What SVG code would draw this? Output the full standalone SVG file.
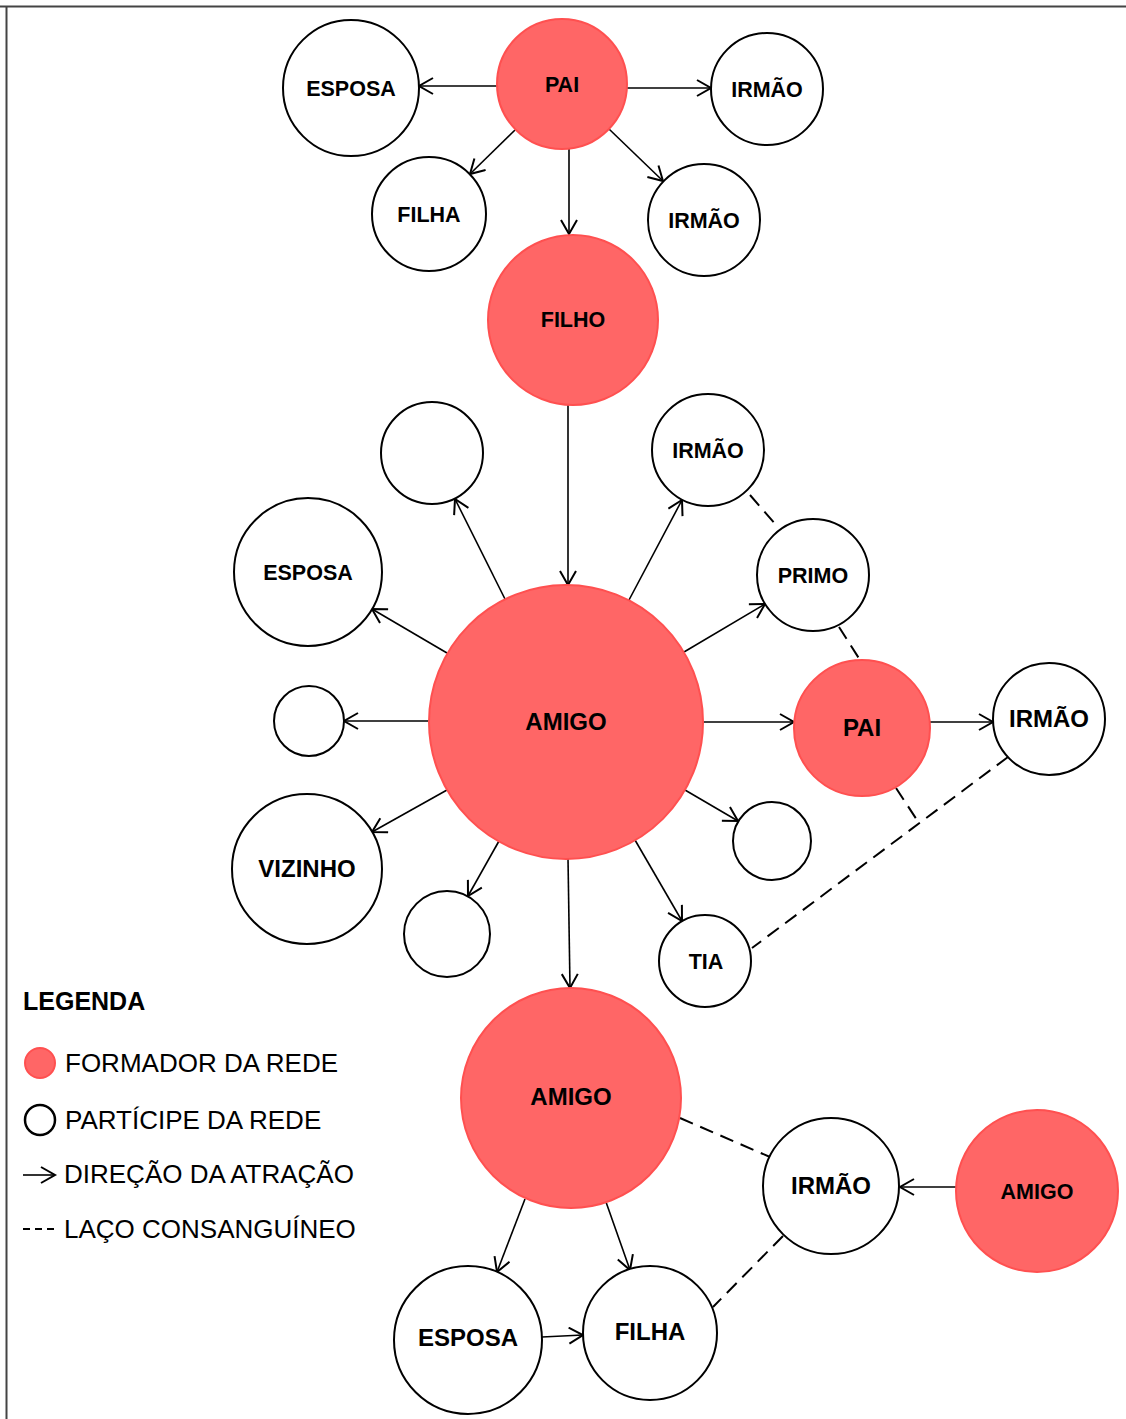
<svg xmlns="http://www.w3.org/2000/svg" width="1126" height="1419" viewBox="0 0 1126 1419">
<style>
.f{fill:#FF6666;stroke:#FF5050;stroke-width:2}
.p{fill:#fff;stroke:#000;stroke-width:2}
.t{font-family:"Liberation Sans",Arial,sans-serif;font-weight:bold;font-size:21.5px;text-anchor:middle;fill:#000}
.L{font-size:24px}
.a{stroke:#000;stroke-width:1.6;fill:none;marker-end:url(#arr)}
.d{stroke:#000;stroke-width:2;fill:none;stroke-dasharray:14 8}
.lg{font-family:"Liberation Sans",Arial,sans-serif;font-size:26px;fill:#000}
</style>
<defs>
<marker id="arr" markerUnits="userSpaceOnUse" markerWidth="18" markerHeight="20" refX="15" refY="9" orient="auto">
<path d="M1,1 L15,9 L1,17" fill="none" stroke="#000" stroke-width="2"/>
</marker>
</defs>
<rect width="1126" height="1419" fill="#fff"/>
<g id="frame">
<line x1="0" y1="6.5" x2="1126" y2="6.5" stroke="#444" stroke-width="2"/>
<line x1="6.5" y1="6" x2="6.5" y2="1419" stroke="#444" stroke-width="2"/>
</g>
<g id="connectors">
<line class="a" x1="497" y1="86" x2="419" y2="86"/>
<line class="a" x1="627" y1="88" x2="711" y2="88"/>
<line class="a" x1="515" y1="130" x2="470" y2="174"/>
<line class="a" x1="609" y1="129" x2="663" y2="181"/>
<line class="a" x1="569" y1="149" x2="569" y2="234"/>
<line class="a" x1="568" y1="405" x2="568" y2="585"/>
<line class="a" x1="505" y1="599" x2="455" y2="499"/>
<line class="a" x1="629" y1="600" x2="682" y2="500"/>
<line class="a" x1="447" y1="653" x2="372" y2="609"/>
<line class="a" x1="684" y1="652" x2="765" y2="604"/>
<line class="a" x1="429" y1="721" x2="344" y2="721"/>
<line class="a" x1="703" y1="722" x2="794" y2="722"/>
<line class="a" x1="447" y1="790" x2="372" y2="832"/>
<line class="a" x1="685" y1="790" x2="738" y2="821"/>
<line class="a" x1="499" y1="841" x2="468" y2="896"/>
<line class="a" x1="635" y1="840" x2="682" y2="921"/>
<line class="a" x1="568" y1="858" x2="570" y2="988"/>
<line class="a" x1="930" y1="722" x2="993" y2="722"/>
<line class="a" x1="525" y1="1199" x2="497" y2="1272"/>
<line class="a" x1="606" y1="1202" x2="630" y2="1270"/>
<line class="a" x1="542" y1="1337" x2="583" y2="1335"/>
<line class="a" x1="956" y1="1187" x2="900" y2="1187"/>
<line class="d" x1="750" y1="495" x2="776" y2="525"/>
<line class="d" x1="839" y1="627" x2="860" y2="660"/>
<line class="d" x1="896" y1="788" x2="917" y2="820"/>
<line class="d" x1="1008" y1="757" x2="752" y2="948"/>
<line class="d" x1="680" y1="1118" x2="770" y2="1157"/>
<line class="d" x1="783" y1="1236" x2="713" y2="1307"/>
</g>
<g id="n-esposa1"><circle class="p" cx="351" cy="88" r="68"/><text class="t" x="351" y="96">ESPOSA</text></g>
<g id="n-pai1"><circle class="f" cx="562" cy="84" r="65"/><text class="t" x="562" y="92">PAI</text></g>
<g id="n-irmao1"><circle class="p" cx="767" cy="89" r="56"/><text class="t" x="767" y="97">IRMÃO</text></g>
<g id="n-filha1"><circle class="p" cx="429" cy="214" r="57"/><text class="t" x="429" y="222">FILHA</text></g>
<g id="n-irmao2"><circle class="p" cx="704" cy="220" r="56"/><text class="t" x="704" y="228">IRMÃO</text></g>
<g id="n-filho"><circle class="f" cx="573" cy="320" r="85"/><text class="t" x="573" y="327">FILHO</text></g>
<g id="n-empty1"><circle class="p" cx="432" cy="453" r="51"/></g>
<g id="n-irmao3"><circle class="p" cx="708" cy="450" r="56"/><text class="t" x="708" y="458">IRMÃO</text></g>
<g id="n-esposa2"><circle class="p" cx="308" cy="572" r="74"/><text class="t" x="308" y="580">ESPOSA</text></g>
<g id="n-primo"><circle class="p" cx="813" cy="575" r="56"/><text class="t" x="813" y="583">PRIMO</text></g>
<g id="n-amigo1"><circle class="f" cx="566" cy="722" r="137"/><text class="t L" x="566" y="730">AMIGO</text></g>
<g id="n-empty2"><circle class="p" cx="309" cy="721" r="35"/></g>
<g id="n-pai2"><circle class="f" cx="862" cy="728" r="68"/><text class="t L" x="862" y="736">PAI</text></g>
<g id="n-irmao4"><circle class="p" cx="1049" cy="719" r="56"/><text class="t L" x="1049" y="727">IRMÃO</text></g>
<g id="n-vizinho"><circle class="p" cx="307" cy="869" r="75"/><text class="t L" x="307" y="877">VIZINHO</text></g>
<g id="n-empty3"><circle class="p" cx="772" cy="841" r="39"/></g>
<g id="n-empty4"><circle class="p" cx="447" cy="934" r="43"/></g>
<g id="n-tia"><circle class="p" cx="705" cy="961" r="46"/><text class="t" x="706" y="969">TIA</text></g>
<g id="n-amigo2"><circle class="f" cx="571" cy="1098" r="110"/><text class="t L" x="571" y="1105">AMIGO</text></g>
<g id="n-irmao5"><circle class="p" cx="831" cy="1186" r="68"/><text class="t L" x="831" y="1194">IRMÃO</text></g>
<g id="n-amigo3"><circle class="f" cx="1037" cy="1191" r="81"/><text class="t" x="1037" y="1199">AMIGO</text></g>
<g id="n-esposa3"><circle class="p" cx="468" cy="1340" r="74"/><text class="t L" x="468" y="1346">ESPOSA</text></g>
<g id="n-filha2"><circle class="p" cx="650" cy="1333" r="67"/><text class="t L" x="650" y="1340">FILHA</text></g>
<g id="legend">
<text x="23" y="1010" style="font-family:'Liberation Sans',Arial,sans-serif;font-weight:bold;font-size:25px">LEGENDA</text>
<circle cx="40" cy="1063" r="15" class="f"/>
<text class="lg" x="65" y="1072">FORMADOR DA REDE</text>
<circle cx="40" cy="1120" r="15" fill="none" stroke="#000" stroke-width="2.5"/>
<text class="lg" x="65" y="1129">PARTÍCIPE DA REDE</text>
<line class="a" x1="23" y1="1175" x2="55" y2="1175"/>
<text class="lg" x="64" y="1183">DIREÇÃO DA ATRAÇÃO</text>
<line x1="23" y1="1229" x2="57" y2="1229" stroke="#000" stroke-width="2" stroke-dasharray="7 5"/>
<text class="lg" x="64" y="1238">LAÇO CONSANGUÍNEO</text>
</g>
</svg>
